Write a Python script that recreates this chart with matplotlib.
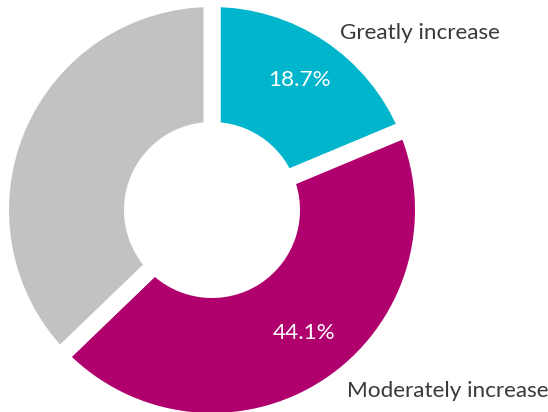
import matplotlib
matplotlib.use("Agg")
from matplotlib import pyplot as plt

labels = ["Greatly increase", "Moderately increase", "Other"]
values = [18.7, 44.1, 37.2]
colors = ["#00B5CC", "#B0006E", "#C2C3C1"]
pctText = ["18.7%", "44.1%", ""]

W, H = 548, 412
fig = plt.figure(figsize=(W / 100, H / 100), dpi=100)

# pie centre and radius in pixels (from the top-left corner)
cx, cy = 212, 210
gap = 17
R = 203 + gap / 2
rIn = 88 - gap / 2

ax = fig.add_axes([(cx - R) / W, (H - cy - R) / H, 2 * R / W, 2 * R / H])
wedges, _ = ax.pie(values, colors=colors, startangle=90, counterclock=False,
                   radius=1.0,
                   wedgeprops=dict(width=1 - rIn / R, edgecolor="white",
                                   linewidth=gap * 72 / 100, joinstyle="miter"))
ax.set_xlim(-1, 1)
ax.set_ylim(-1, 1)
ax.axis("off")

font = "Lato"
fs = 16.2
fig.text(300 / W, 1 - 80 / H, pctText[0], color="white", fontsize=fs,
         family=font, ha="center", va="center")
fig.text(304 / W, 1 - 333 / H, pctText[1], color="white", fontsize=fs,
         family=font, ha="center", va="center")
fig.text(340 / W, 1 - 33 / H, labels[0], color="#3a3a3a", fontsize=fs,
         family=font, ha="left", va="center")
fig.text(347 / W, 1 - 391 / H, labels[1], color="#3a3a3a", fontsize=fs,
         family=font, ha="left", va="center")

fig.savefig("out.png", dpi=100)
